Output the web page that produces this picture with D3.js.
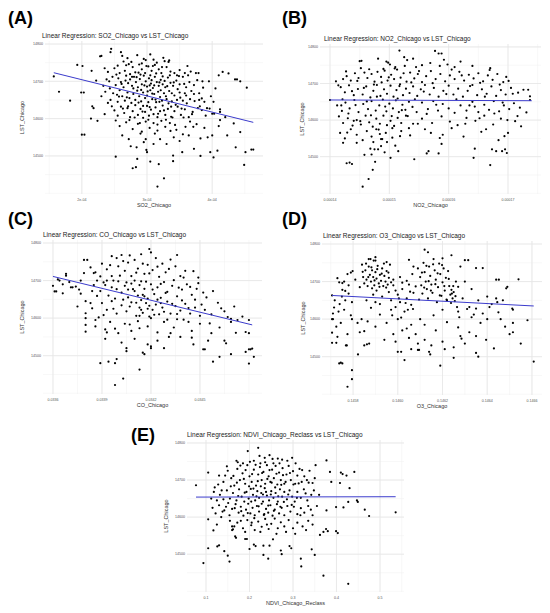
<!DOCTYPE html>
<html>
<head>
<meta charset="utf-8">
<script src="https://cdn.jsdelivr.net/npm/d3@7"></script>
<style>
  body { margin: 0; background: #fff; }
  svg { font-family: "Liberation Sans", Arial, sans-serif; }
</style>
</head>
<body>
<svg id="root" width="550" height="613"></svg>
<script>

// shared y variable (LST)
const lstTicks = [14500, 14600, 14700, 14800];
const lstLim = [14398, 14808];

// (A) SO2, x stored in units of 1e-4
const so2Pts = [
  [1.57,14713],[1.65,14672],[1.82,14648],[1.93,14744],[2.01,14741],[1.99,14670],[2.03,14670],[2.15,14728],[2.14,14600],[2.16,14633],
  [2.18,14628],[2.24,14594],[2.28,14767],[2.22,14702],[2.00,14557],[2.04,14557],
  [2.45,14787],[2.44,14778],[2.60,14778],[2.62,14768],[2.64,14753],[2.30,14768],[2.95,14760],[2.98,14757],[3.10,14758],[3.25,14763],
  [3.27,14754],[3.34,14756],[2.70,14762],[2.85,14770],[3.05,14772],
  [2.50,14735],[2.55,14742],[2.66,14728],[2.72,14746],[2.78,14738],[2.82,14724],[2.88,14745],[2.92,14732],[2.97,14722],[3.02,14740],
  [3.07,14728],[3.12,14744],[3.18,14732],[3.22,14722],[3.30,14738],[3.36,14726],[3.42,14722],[3.50,14730],[3.58,14722],[3.67,14726],
  [3.75,14722],[3.79,14722],[4.10,14716],[4.16,14725],[4.25,14721],[2.40,14725],[2.35,14735],[2.58,14722],[2.76,14752],[3.15,14750],
  [2.38,14705],[2.42,14700],[2.47,14712],[2.52,14690],[2.56,14708],[2.60,14698],[2.64,14684],[2.68,14715],[2.71,14695],[2.74,14705],
  [2.77,14688],[2.80,14712],[2.83,14698],[2.86,14684],[2.89,14706],[2.92,14692],[2.95,14715],[2.98,14700],[3.00,14686],[3.03,14708],
  [3.06,14694],[3.09,14682],[3.12,14712],[3.15,14698],[3.18,14688],[3.21,14704],[3.24,14692],[3.28,14684],[3.32,14710],[3.36,14696],
  [3.40,14688],[3.45,14702],[3.50,14692],[3.55,14712],[3.60,14684],[3.65,14698],[3.72,14690],[3.85,14700],[3.95,14700],[4.35,14705],
  [4.38,14705],[4.43,14700],[4.53,14683],[2.90,14718],[3.05,14716],
  [2.30,14660],[2.36,14672],[2.44,14650],[2.48,14668],[2.55,14645],[2.58,14676],[2.62,14660],[2.66,14648],[2.70,14670],[2.73,14655],
  [2.76,14642],[2.79,14666],[2.82,14650],[2.85,14675],[2.88,14660],[2.91,14646],[2.94,14670],[2.97,14655],[3.00,14662],[3.02,14644],
  [3.05,14676],[3.08,14652],[3.11,14666],[3.14,14644],[3.17,14672],[3.20,14658],[3.23,14648],[3.26,14668],[3.30,14652],[3.34,14674],
  [3.38,14646],[3.42,14662],[3.46,14650],[3.50,14670],[3.55,14648],[3.60,14662],[3.66,14652],[3.72,14666],[3.80,14668],[3.80,14650],
  [3.88,14645],[3.98,14660],[4.02,14645],[2.40,14642],
  [2.50,14622],[2.55,14608],[2.60,14632],[2.65,14615],[2.70,14628],[2.74,14604],[2.78,14620],[2.82,14636],[2.86,14610],[2.90,14626],
  [2.94,14602],[2.97,14618],[3.00,14634],[3.03,14608],[3.06,14624],[3.10,14612],[3.13,14630],[3.16,14604],[3.20,14620],[3.24,14635],
  [3.28,14610],[3.32,14626],[3.37,14605],[3.42,14620],[3.47,14632],[3.52,14610],[3.58,14625],[3.64,14604],[3.70,14618],[3.78,14628],
  [3.84,14623],[3.90,14608],[4.00,14613],[4.03,14613],[4.12,14625],[4.12,14618],[4.20,14604],[2.35,14612],
  [2.52,14595],[2.58,14580],[2.68,14590],[2.78,14572],[2.86,14586],[2.92,14565],[2.98,14592],[3.04,14575],[3.10,14588],[3.16,14568],
  [3.22,14594],[3.28,14578],[3.35,14588],[3.45,14570],[3.59,14578],[3.66,14592],[3.76,14585],[3.88,14575],[4.10,14580],[4.12,14596],
  [4.33,14587],[4.43,14564],[2.90,14560],
  [2.62,14555],[2.75,14526],[2.84,14523],[2.95,14537],[3.10,14532],[3.30,14532],[3.41,14550],[3.64,14555],[3.72,14519],[3.93,14550],
  [4.00,14555],[4.23,14555],[4.36,14523],[3.20,14545],[3.50,14540],
  [2.52,14498],[2.85,14492],[2.99,14516],[3.00,14510],[3.05,14485],[3.18,14478],[3.40,14501],[3.40,14486],[3.54,14510],[3.82,14500],
  [3.97,14510],[4.02,14496],[4.08,14514],[4.51,14510],[4.60,14517],[4.63,14517],
  [2.78,14467],[2.83,14470],[3.26,14440],[3.16,14418],[4.49,14476],
  [2.53,14718],[2.61,14693],[2.67,14702],[2.69,14657],[2.71,14633],[2.74,14719],[2.79,14681],[2.81,14603],[2.84,14711],[2.87,14643],
  [2.91,14677],[2.93,14619],[2.96,14689],[2.99,14741],[3.01,14673],[3.04,14631],[3.07,14703],[3.08,14667],[3.11,14689],[3.13,14651],
  [3.14,14721],[3.17,14613],[3.19,14697],[3.21,14676],[3.23,14738],[3.26,14622],[3.27,14701],[3.29,14660],[3.31,14687],[3.33,14641],
  [3.35,14716],[3.38,14668],[3.39,14603],[3.41,14697],[3.44,14637],[3.47,14679],[3.49,14714],[3.51,14656],[3.53,14627],[3.57,14693],
  [3.61,14641],[3.63,14716],[3.68,14674],[3.69,14612],[3.73,14647],[3.77,14703],[3.81,14633],[3.86,14683],[3.92,14628],[2.57,14659],
  [2.63,14627],[2.68,14743],[2.73,14596],[2.77,14712],[2.89,14588],[2.92,14748],[3.02,14597],[3.09,14741],[3.16,14584],[3.29,14597],
  [3.33,14752],[3.43,14583],[3.56,14603],[3.62,14741],[3.71,14578],[2.46,14633],[2.43,14681],[2.33,14688],[2.54,14664],[2.87,14723],
  [2.94,14634],[3.04,14689],[3.19,14645],[3.24,14713],[3.37,14632],[3.46,14716],[3.58,14668],[3.84,14654],[3.96,14627],[4.05,14681],
  [2.98,14545],[3.12,14560],[3.36,14567],[3.55,14558],[3.82,14547],[2.72,14545]
];
const so2Fit = [[1.57, 14723], [4.63, 14590]];
const so2Ticks = [2, 3, 4];
const so2TickLabels = ['2e-04', '3e-04', '4e-04'];
const so2Lim = [1.435, 4.779];

// (B) NO2, x stored in units of 1e-5
const no2Pts = [
  [14.50,14761],[14.53,14762],[14.81,14768],[14.98,14757],[15.01,14752],[15.17,14790],[15.25,14772],[15.30,14764],[15.45,14745],[15.55,14750],
  [15.77,14789],[15.83,14782],[15.88,14782],[15.92,14765],[15.98,14752],[16.10,14745],[16.40,14748],[16.70,14742],[15.10,14745],[14.90,14740],
  [14.22,14712],[14.28,14720],[14.35,14708],[14.42,14728],[14.48,14715],[14.58,14730],[14.63,14715],[14.70,14726],[14.75,14705],[14.80,14732],
  [14.86,14718],[14.92,14735],[14.97,14708],[15.03,14724],[15.08,14712],[15.13,14738],[15.19,14716],[15.24,14728],[15.29,14705],[15.35,14730],
  [15.42,14714],[15.48,14726],[15.55,14704],[15.62,14720],[15.70,14734],[15.78,14712],[15.86,14726],[15.94,14706],[16.02,14722],[16.10,14712],
  [16.18,14732],[16.26,14708],[16.34,14724],[16.42,14714],[16.50,14728],[16.58,14706],[16.66,14722],[16.74,14710],[16.82,14726],[16.92,14704],
  [16.97,14718],[14.10,14706],
  [14.18,14690],[14.25,14676],[14.32,14695],[14.40,14668],[14.47,14685],[14.55,14670],[14.61,14692],[14.68,14662],[14.73,14680],[14.79,14696],
  [14.85,14666],[14.91,14684],[14.96,14672],[15.02,14694],[15.07,14664],[15.12,14682],[15.18,14698],[15.23,14668],[15.28,14686],[15.34,14674],
  [15.40,14692],[15.47,14666],[15.53,14684],[15.60,14696],[15.68,14670],[15.75,14688],[15.83,14664],[15.91,14680],[16.00,14694],[16.08,14670],
  [16.16,14686],[16.24,14664],[16.32,14680],[16.40,14696],[16.48,14668],[16.56,14684],[16.64,14672],[16.72,14692],[16.80,14666],[16.88,14682],
  [16.96,14670],[17.05,14688],[17.26,14683],[17.34,14683],[17.37,14665],
  [14.00,14655],[14.12,14640],[14.20,14625],[14.26,14648],[14.33,14632],[14.41,14655],[14.48,14622],[14.56,14644],[14.64,14630],[14.70,14652],
  [14.77,14626],[14.83,14640],[14.89,14656],[14.95,14624],[15.00,14645],[15.06,14632],[15.11,14654],[15.16,14622],[15.22,14642],[15.27,14628],
  [15.33,14650],[15.39,14636],[15.46,14622],[15.55,14648],[15.65,14630],[15.74,14652],[15.82,14626],[15.90,14644],[16.00,14632],[16.10,14620],
  [16.20,14640],[16.30,14626],[16.40,14650],[16.50,14622],[16.60,14642],[16.68,14628],[16.76,14652],[16.85,14624],[16.93,14640],[17.02,14630],
  [17.10,14646],[17.20,14634],[17.31,14621],[17.37,14655],
  [14.15,14610],[14.22,14592],[14.30,14605],[14.38,14585],[14.45,14600],[14.52,14588],[14.60,14612],[14.66,14594],[14.72,14582],[14.78,14604],
  [14.84,14590],[14.90,14612],[14.96,14586],[15.02,14598],[15.08,14584],[15.14,14606],[15.20,14592],[15.28,14612],[15.40,14590],[15.55,14604],
  [15.72,14592],[15.88,14610],[16.02,14596],[16.15,14586],[16.30,14606],[16.45,14598],[16.60,14612],[16.75,14588],[16.88,14604],[17.12,14597],
  [17.22,14583],
  [14.17,14565],[14.25,14550],[14.35,14575],[14.45,14560],[14.55,14545],[14.62,14570],[14.70,14555],[14.78,14575],[14.86,14548],[14.94,14565],
  [15.05,14552],[15.20,14570],[15.35,14558],[15.60,14575],[15.85,14551],[15.90,14560],[16.25,14555],[16.55,14568],[16.94,14556],[17.00,14565],
  [14.22,14538],[14.45,14538],[14.70,14506],[14.75,14520],[14.86,14529],[14.92,14512],[15.15,14515],[15.63,14509],[15.66,14515],[15.83,14509],
  [15.88,14535],[16.44,14522],[16.73,14520],[16.80,14515],[16.90,14515],[16.95,14520],[16.98,14510],
  [14.28,14482],[14.33,14484],[14.37,14480],[14.55,14418],[14.65,14439],[14.72,14464],[14.76,14486],[15.02,14497],[15.42,14493],[16.42,14497],
  [16.70,14477],
  [14.14,14695],[14.21,14657],[14.27,14733],[14.31,14618],[14.37,14679],[14.43,14641],[14.46,14707],[14.51,14597],[14.57,14688],[14.62,14651],
  [14.66,14739],[14.69,14613],[14.74,14697],[14.79,14664],[14.82,14574],[14.87,14703],[14.88,14548],[14.93,14637],[14.99,14717],[15.04,14611],
  [15.05,14578],[15.09,14741],[15.14,14659],[15.17,14693],[15.21,14627],[15.26,14748],[15.31,14611],[15.37,14703],[15.43,14657],[15.50,14734],
  [15.58,14678],[15.63,14617],[15.69,14756],[15.73,14701],[15.79,14642],[15.85,14748],[15.96,14671],[16.05,14738],[16.13,14657],[16.22,14722],
  [16.28,14590],[16.36,14693],[16.44,14637],[16.53,14702],[16.61,14664],[16.69,14737],[16.77,14618],[16.86,14697],[16.91,14648],[17.01,14707],
  [17.08,14672],[17.16,14611],[14.73,14540],[14.81,14520],[14.84,14562],[14.96,14540],[15.10,14530],[14.68,14522],[14.58,14505],[14.40,14598],
  [14.29,14566],[14.19,14640],[15.18,14556],[15.33,14578],[15.48,14590],[15.70,14565],[16.05,14578],[16.35,14640],[16.52,14605],[16.63,14575],
  [16.84,14545],[16.99,14600],[17.17,14675],[14.52,14742],[14.95,14760],[15.40,14768],[16.20,14760]
];
const no2Fit = [[14.0, 14655], [17.4, 14653]];
const no2Ticks = [14, 15, 16, 17];
const no2TickLabels = ['0.00014', '0.00015', '0.00016', '0.00017'];
const no2Lim = [13.831, 17.556];

// (C) CO
const coPts = [
  [0.03360,14686],[0.03361,14671],[0.03362,14671],[0.03363,14703],[0.03364,14700],[0.03366,14690],[0.03368,14718],[0.03368,14713],[0.03366,14666],[0.03371,14682],
  [0.03372,14682],[0.03374,14684],[0.03375,14631],[0.03376,14676],[0.03377,14665],[0.03379,14755],[0.03381,14755],[0.03379,14720],[0.03380,14613],[0.03380,14600],
  [0.03380,14582],[0.03380,14564],[0.03383,14640],[0.03384,14626],[0.03386,14595],[0.03386,14578],[0.03387,14700],[0.03385,14720],[0.03388,14602],[0.03389,14480],
  [0.03394,14484],[0.03391,14608],[0.03392,14570],[0.03393,14562],
  [0.03383,14735],[0.03386,14722],[0.03390,14745],[0.03393,14730],[0.03396,14712],[0.03399,14760],[0.03400,14738],[0.03402,14768],[0.03404,14726],[0.03406,14748],
  [0.03408,14712],[0.03410,14755],[0.03412,14732],[0.03414,14770],[0.03416,14718],[0.03418,14742],[0.03419,14784],[0.03421,14728],[0.03423,14760],[0.03425,14710],
  [0.03427,14745],[0.03429,14722],[0.03432,14756],[0.03435,14738],[0.03438,14712],[0.03441,14726],[0.03446,14725],[0.03449,14708],
  [0.03385,14688],[0.03389,14672],[0.03391,14695],[0.03394,14660],[0.03396,14682],[0.03398,14652],[0.03400,14698],[0.03402,14668],[0.03404,14686],[0.03406,14655],
  [0.03408,14692],[0.03410,14672],[0.03412,14660],[0.03414,14698],[0.03416,14678],[0.03418,14652],[0.03420,14690],[0.03422,14664],[0.03424,14682],[0.03426,14654],
  [0.03428,14696],[0.03430,14670],[0.03433,14686],[0.03436,14658],[0.03439,14676],[0.03442,14690],[0.03445,14662],[0.03448,14678],[0.03452,14668],[0.03397,14700],
  [0.03413,14688],
  [0.03390,14640],[0.03393,14622],[0.03396,14645],[0.03399,14612],[0.03402,14634],[0.03405,14618],[0.03408,14642],[0.03411,14606],[0.03413,14628],[0.03415,14614],
  [0.03417,14640],[0.03419,14604],[0.03421,14622],[0.03423,14636],[0.03425,14610],[0.03427,14628],[0.03430,14644],[0.03432,14612],[0.03435,14632],[0.03438,14620],
  [0.03441,14638],[0.03444,14612],[0.03447,14628],[0.03450,14606],[0.03453,14622],[0.03457,14610],[0.03463,14626],[0.03467,14603],[0.03414,14648],[0.03418,14625],
  [0.03395,14590],[0.03398,14572],[0.03404,14585],[0.03408,14566],[0.03412,14592],[0.03418,14578],[0.03424,14562],[0.03428,14590],[0.03434,14575],[0.03440,14596],
  [0.03445,14566],[0.03450,14585],[0.03456,14586],[0.03457,14560],[0.03462,14575],[0.03469,14590],[0.03469,14598],[0.03472,14561],[0.03473,14595],[0.03480,14595],
  [0.03480,14560],[0.03478,14563],
  [0.03398,14422],[0.03403,14439],[0.03413,14463],[0.03398,14480],[0.03399,14491],[0.03405,14512],[0.03405,14520],[0.03415,14508],[0.03416,14504],[0.03420,14525],
  [0.03420,14520],[0.03424,14540],[0.03431,14550],[0.03438,14550],[0.03446,14530],[0.03452,14517],[0.03453,14517],[0.03458,14484],[0.03462,14497],[0.03465,14540],
  [0.03466,14533],[0.03469,14504],[0.03478,14510],[0.03480,14517],[0.03481,14517],[0.03482,14519],[0.03480,14479],[0.03483,14497],[0.03410,14545],[0.03402,14535],
  [0.03392,14545],
  [0.03387,14659],[0.03389,14711],[0.03392,14688],[0.03395,14741],[0.03397,14625],[0.03399,14677],[0.03401,14713],[0.03403,14649],[0.03403,14752],[0.03405,14695],
  [0.03407,14631],[0.03407,14767],[0.03409,14677],[0.03411,14721],[0.03411,14641],[0.03413,14606],[0.03415,14745],[0.03415,14662],[0.03417,14697],[0.03419,14633],
  [0.03419,14719],[0.03421,14676],[0.03422,14609],[0.03424,14737],[0.03424,14649],[0.03426,14691],[0.03428,14617],[0.03429,14667],[0.03431,14731],[0.03433,14638],
  [0.03434,14701],[0.03436,14611],[0.03437,14681],[0.03439,14647],[0.03440,14708],[0.03443,14627],[0.03444,14683],[0.03447,14649],[0.03449,14693],[0.03451,14636],
  [0.03454,14655],[0.03458,14672],[0.03461,14641],[0.03465,14618],[0.03471,14631],[0.03476,14604],[0.03406,14676],[0.03410,14700],[0.03414,14622],[0.03416,14658],
  [0.03420,14600],[0.03426,14640],[0.03430,14596],[0.03436,14597],[0.03443,14590],[0.03393,14700],[0.03384,14672],[0.03380,14645],[0.03377,14700],[0.03370,14696],
  [0.03396,14765],[0.03420,14775],[0.03436,14768],[0.03407,14583],[0.03400,14560],[0.03413,14573],[0.03432,14560],[0.03445,14548],[0.03455,14540],[0.03418,14530],
  [0.03428,14520]
];
const coFit = [[0.03360, 14711], [0.03482, 14582]];
const coTicks = [0.0336, 0.0339, 0.0342, 0.0345];
const coTickLabels = ['0.0336', '0.0339', '0.0342', '0.0345'];
const coLim = [0.033539, 0.034880];

// (D) O3
const o3Pts = [
  [0.145706,14663],[0.14571,14615],[0.145715,14631],[0.145718,14650],[0.145706,14600],[0.14571,14600],[0.145706,14564],[0.145706,14537],[0.145725,14537],[0.14573,14553],
  [0.145738,14482],[0.145745,14484],[0.145752,14482],[0.14573,14709],[0.145738,14698],[0.145752,14696],[0.14576,14700],[0.145752,14678],[0.14576,14625],[0.145775,14720],
  [0.14579,14724],[0.145798,14728],[0.145795,14600],[0.145795,14645],[0.145775,14560],[0.145768,14530],[0.145772,14530],[0.145795,14464],[0.145795,14440],[0.145775,14420],
  [0.145822,14506],[0.14583,14565],[0.14585,14568],[0.14585,14530],[0.145862,14533],[0.145872,14535],[0.145838,14600],[0.145865,14594],[0.145745,14590],[0.14574,14640],
  [0.14575,14660],[0.145765,14675],[0.14578,14690],
  [0.14587,14760],[0.145878,14760],[0.145892,14756],[0.1459,14756],[0.14584,14745],[0.145845,14712],[0.14585,14695],[0.145855,14730],[0.14586,14705],[0.145865,14688],
  [0.14587,14740],[0.145875,14718],[0.14588,14700],[0.145885,14730],[0.14589,14712],[0.145895,14690],[0.1459,14725],[0.145905,14708],[0.14591,14742],[0.145915,14695],
  [0.14592,14718],[0.145925,14702],[0.14593,14735],[0.145935,14688],[0.14594,14715],[0.145945,14700],[0.14595,14728],[0.145955,14692],[0.14596,14710],[0.145965,14745],
  [0.145885,14682],[0.145905,14676],
  [0.14596,14672],[0.14597,14650],[0.14598,14690],[0.14599,14632],[0.146,14665],[0.14601,14645],[0.14602,14680],[0.14603,14620],[0.14604,14655],[0.14605,14692],
  [0.14606,14638],[0.14607,14670],[0.145975,14610],[0.146015,14604],[0.146045,14625],[0.14598,14705],[0.14601,14712],[0.14604,14702],[0.146065,14720],[0.14607,14740],
  [0.14593,14660],[0.1459,14645],[0.14588,14630],[0.14592,14612],[0.14595,14590],[0.1459,14580],[0.14598,14560],[0.14594,14545],[0.14602,14570],[0.14606,14585],
  [0.14612,14785],[0.146135,14778],[0.14609,14735],[0.1461,14712],[0.146105,14690],[0.14611,14668],[0.146115,14750],[0.14612,14725],[0.146125,14700],[0.14613,14680],
  [0.146135,14655],[0.14614,14740],[0.146145,14715],[0.14615,14692],[0.146155,14670],[0.14616,14760],[0.146165,14730],[0.14617,14705],[0.146175,14645],[0.14618,14685],
  [0.146185,14748],[0.14619,14720],[0.146195,14662],[0.1462,14698],[0.146205,14735],[0.14621,14676],[0.146215,14710],[0.14622,14650],[0.146225,14728],[0.14623,14688],
  [0.146235,14665],[0.14624,14678],[0.146242,14668],[0.146245,14655],[0.14625,14672],[0.146255,14648],[0.14626,14700],[0.146265,14632],[0.14627,14620],[0.146275,14605],
  [0.146,14513],[0.146015,14513],[0.14603,14491],[0.14606,14520],[0.14609,14518],[0.146095,14518],[0.14614,14513],[0.146145,14506],[0.14619,14476],[0.14621,14520],
  [0.14625,14497],[0.146285,14548],[0.14628,14555],[0.14635,14510],[0.14636,14500],[0.14643,14522],[0.146395,14545],[0.14608,14560],[0.14612,14585],[0.14617,14570],
  [0.14622,14592],[0.14627,14578],[0.14632,14565],[0.14637,14590],[0.14612,14545],[0.1462,14540],[0.1463,14535],
  [0.1463,14757],[0.146315,14757],[0.14635,14736],[0.14638,14736],[0.1463,14700],[0.14633,14680],[0.14636,14650],[0.14632,14632],[0.14634,14612],[0.1464,14660],
  [0.14642,14640],[0.14644,14705],[0.146452,14705],[0.14644,14655],[0.146445,14645],[0.14647,14650],[0.14649,14686],[0.146485,14682],[0.1465,14560],[0.146515,14565],
  [0.146515,14590],[0.14648,14580],[0.146515,14625],[0.146512,14628],[0.14655,14535],[0.14658,14597],[0.146608,14487],[0.14654,14706],[0.14646,14600],[0.1464,14600],
  [0.145843,14726],[0.145858,14748],[0.145868,14712],[0.145882,14738],[0.145896,14703],[0.145908,14733],[0.145918,14686],[0.145928,14721],[0.145938,14748],[0.145948,14684],
  [0.145958,14724],[0.14597,14698],[0.14599,14676],[0.146005,14655],[0.14602,14697],[0.146035,14643],[0.146055,14673],[0.146068,14627],[0.14608,14687],[0.146095,14652],
  [0.146108,14724],[0.146118,14684],[0.146128,14742],[0.146138,14701],[0.146148,14676],[0.146158,14746],[0.146168,14693],[0.146178,14722],[0.146188,14663],[0.146198,14744],
  [0.146208,14688],[0.146218,14652],[0.146228,14707],[0.146238,14643],[0.146248,14688],[0.146258,14661],[0.14627,14686],[0.14629,14655],[0.14631,14627],[0.14633,14605],
  [0.14635,14628],[0.14638,14615],[0.14641,14632],[0.14645,14618],[0.14589,14665],[0.14592,14640],[0.14597,14625],[0.146,14600],[0.14586,14650],[0.14583,14685],
  [0.14581,14705],[0.14578,14668],[0.145765,14650],[0.145735,14620],[0.145725,14580],[0.14579,14610],[0.14582,14590],[0.14599,14540],[0.14605,14550],[0.1461,14600],
  [0.14616,14610],[0.1462,14625],[0.14604,14575],[0.14609,14535],[0.14615,14530],[0.14625,14525],[0.14635,14555],[0.1459,14765],[0.14595,14752],[0.14605,14758],
  [0.14624,14770],[0.14628,14740],[0.1462,14762]
];
const o3Fit = [[0.145706, 14663], [0.146608, 14635]];
const o3Ticks = [0.1458, 0.1460, 0.1462, 0.1464, 0.1466];
const o3TickLabels = ['0.1458', '0.1460', '0.1462', '0.1464', '0.1466'];
const o3Lim = [0.145661, 0.146645];

// (E) NDVI
const ndviPts = [
  [0.077,14686],[0.105,14720],[0.105,14594],[0.105,14516],[0.094,14476],[0.117,14564],[0.126,14521],[0.13,14524],[0.142,14508],[0.15,14496],
  [0.154,14480],[0.16,14565],[0.162,14567],[0.167,14548],[0.169,14544],[0.19,14541],[0.194,14541],[0.2,14514],[0.21,14526],[0.214,14522],
  [0.232,14498],[0.243,14488],[0.232,14523],[0.246,14523],[0.254,14540],[0.272,14510],[0.274,14500],[0.292,14522],[0.296,14516],[0.318,14488],
  [0.319,14467],[0.343,14513],[0.35,14498],[0.37,14442],[0.427,14420],[0.362,14552],[0.37,14560],[0.38,14562],[0.376,14568],[0.403,14557],
  [0.399,14562],[0.399,14627],[0.377,14618],[0.416,14626],[0.427,14641],[0.447,14645],[0.449,14641],[0.465,14620],[0.475,14603],[0.536,14613],
  [0.385,14722],[0.388,14695],[0.41,14720],[0.414,14716],[0.408,14692],[0.423,14712],[0.441,14722],[0.377,14753],[0.43,14678],[0.36,14660],
  [0.355,14630],
  [0.196,14778],[0.22,14787],[0.246,14767],[0.298,14760],[0.17,14752],[0.173,14748],[0.148,14737],[0.265,14758],[0.275,14755],[0.235,14760],
  [0.21,14752],
  [0.12,14680],[0.13,14712],[0.14,14695],[0.15,14725],[0.158,14705],[0.165,14685],[0.172,14730],[0.178,14700],[0.184,14718],[0.19,14690],
  [0.195,14740],[0.2,14710],[0.205,14695],[0.21,14728],[0.215,14685],[0.22,14715],[0.224,14735],[0.228,14700],[0.232,14722],[0.236,14690],
  [0.24,14740],[0.244,14710],[0.248,14695],[0.252,14728],[0.256,14705],[0.26,14738],[0.264,14688],[0.268,14720],[0.272,14700],[0.276,14732],
  [0.28,14690],[0.285,14715],[0.29,14738],[0.295,14700],[0.3,14724],[0.305,14690],[0.31,14712],[0.315,14730],[0.32,14695],[0.326,14710],
  [0.332,14700],[0.338,14725],[0.345,14692],[0.35,14705],[0.225,14745],[0.255,14745],[0.185,14745],
  [0.112,14650],[0.118,14668],[0.125,14645],[0.132,14660],[0.14,14648],[0.148,14672],[0.155,14650],[0.162,14665],[0.17,14645],[0.176,14675],
  [0.182,14655],[0.188,14642],[0.193,14668],[0.198,14650],[0.203,14676],[0.208,14660],[0.213,14645],[0.218,14670],[0.222,14652],[0.227,14665],
  [0.231,14642],[0.235,14678],[0.24,14658],[0.245,14645],[0.25,14670],[0.255,14652],[0.26,14665],[0.265,14642],[0.27,14675],[0.275,14655],
  [0.28,14668],[0.286,14648],[0.292,14672],[0.298,14655],[0.304,14642],[0.31,14668],[0.318,14652],[0.325,14675],[0.333,14645],[0.342,14660],
  [0.115,14625],[0.122,14610],[0.13,14632],[0.138,14615],[0.146,14628],[0.154,14605],[0.16,14622],[0.168,14635],[0.175,14612],[0.18,14628],
  [0.186,14604],[0.192,14620],[0.197,14636],[0.202,14610],[0.207,14625],[0.212,14605],[0.217,14630],[0.222,14615],[0.228,14636],[0.234,14608],
  [0.238,14622],[0.243,14612],[0.248,14632],[0.253,14604],[0.258,14620],[0.263,14635],[0.268,14610],[0.274,14625],[0.28,14605],[0.287,14630],
  [0.294,14615],[0.302,14628],[0.31,14608],[0.318,14624],[0.326,14612],[0.335,14630],[0.345,14605],
  [0.155,14590],[0.16,14575],[0.172,14585],[0.185,14570],[0.195,14592],[0.204,14578],[0.212,14565],[0.22,14588],[0.228,14574],[0.236,14595],
  [0.244,14568],[0.25,14582],[0.258,14596],[0.265,14570],[0.272,14586],[0.28,14575],[0.29,14592],[0.3,14570],[0.31,14585],[0.322,14575],
  [0.335,14590],[0.345,14580],
  [0.128,14688],[0.136,14672],[0.144,14712],[0.151,14638],[0.157,14683],[0.163,14711],[0.166,14624],[0.171,14693],[0.174,14657],[0.179,14739],
  [0.181,14616],[0.187,14703],[0.189,14666],[0.191,14727],[0.196,14611],[0.199,14683],[0.201,14749],[0.204,14642],[0.206,14716],[0.209,14677],
  [0.211,14597],[0.214,14741],[0.216,14656],[0.219,14697],[0.221,14629],[0.223,14765],[0.226,14683],[0.229,14719],[0.231,14661],[0.233,14606],
  [0.236,14748],[0.238,14668],[0.241,14703],[0.243,14631],[0.246,14727],[0.249,14661],[0.251,14693],[0.253,14757],[0.256,14617],[0.259,14680],
  [0.262,14717],[0.266,14656],[0.269,14745],[0.271,14628],[0.273,14687],[0.277,14713],[0.279,14641],[0.283,14695],[0.287,14752],[0.289,14661],
  [0.293,14719],[0.297,14633],[0.301,14688],[0.306,14745],[0.309,14652],[0.313,14691],[0.317,14605],[0.321,14727],[0.329,14664],[0.336,14693],
  [0.341,14620],[0.348,14672],[0.352,14740],[0.18,14590],[0.19,14560],[0.205,14585],[0.225,14560],[0.24,14580],[0.262,14555],[0.284,14560],
  [0.305,14555],[0.33,14565],[0.142,14618],[0.135,14600],[0.125,14580],[0.165,14575]
];
const ndviFit = [[0.077, 14654], [0.536, 14655]];
const ndviTicks = [0.1, 0.2, 0.3, 0.4, 0.5];
const ndviTickLabels = ['0.1', '0.2', '0.3', '0.4', '0.5'];
const ndviLim = [0.0563, 0.5552];

const panels = [
  { tag: '(A)', tagX: 8, tagY: 24, name: 'SO2_Chicago', pts: so2Pts, fit: so2Fit, ticks: so2Ticks, labels: so2TickLabels, lim: so2Lim,
    box: { l: 45, r: 263, t: 41, b: 194 }, yTitleX: 24, titleX: 42 },
  { tag: '(B)', tagX: 282, tagY: 24, name: 'NO2_Chicago', pts: no2Pts, fit: no2Fit, ticks: no2Ticks, labels: no2TickLabels, lim: no2Lim,
    box: { l: 320, r: 541, t: 44, b: 194 }, yTitleX: 304, titleX: 324 },
  { tag: '(C)', tagX: 8, tagY: 225, name: 'CO_Chicago', pts: coPts, fit: coFit, ticks: coTicks, labels: coTickLabels, lim: coLim,
    box: { l: 43, r: 262, t: 240, b: 394 }, yTitleX: 24, titleX: 43 },
  { tag: '(D)', tagX: 282, tagY: 225, name: 'O3_Chicago', pts: o3Pts, fit: o3Fit, ticks: o3Ticks, labels: o3TickLabels, lim: o3Lim,
    box: { l: 322, r: 542, t: 241, b: 395 }, yTitleX: 305, titleX: 323 },
  { tag: '(E)', tagX: 131, tagY: 441, name: 'NDVI_Chicago_Reclass', pts: ndviPts, fit: ndviFit, ticks: ndviTicks, labels: ndviTickLabels, lim: ndviLim,
    box: { l: 187, r: 404, t: 440, b: 592 }, yTitleX: 168, titleX: 187 }
];

const root = d3.select('#root');

// ggplot style minor breaks: midpoints of the majors, one step extended each side
const minorBreaks = (ticks, lim) => {
  const step = ticks[1] - ticks[0];
  const ext = [ticks[0] - step, ...ticks, ticks[ticks.length - 1] + step];
  const out = ext.slice();
  for (let i = 0; i < ext.length - 1; i++) out.push((ext[i] + ext[i + 1]) / 2);
  return out.filter(v => v >= lim[0] && v <= lim[1]);
};

const render = (selection, p) => {
  const { l, r, t, b } = p.box;
  const x = d3.scaleLinear().domain(p.lim).range([l, r]);
  const y = d3.scaleLinear().domain(lstLim).range([b, t]);
  const g = selection.append('g');

  // grid
  g.selectAll('.vmin').data(minorBreaks(p.ticks, p.lim)).enter().append('line')
    .attr('x1', d => x(d)).attr('x2', d => x(d)).attr('y1', t).attr('y2', b)
    .attr('stroke', '#f1f1f1').attr('stroke-width', 0.5);
  g.selectAll('.hmin').data(minorBreaks(lstTicks, lstLim)).enter().append('line')
    .attr('y1', d => y(d)).attr('y2', d => y(d)).attr('x1', l).attr('x2', r)
    .attr('stroke', '#f1f1f1').attr('stroke-width', 0.5);
  g.selectAll('.vmaj').data(p.ticks).enter().append('line')
    .attr('x1', d => x(d)).attr('x2', d => x(d)).attr('y1', t).attr('y2', b)
    .attr('stroke', '#e6e6e6').attr('stroke-width', 0.8);
  g.selectAll('.hmaj').data(lstTicks).enter().append('line')
    .attr('y1', d => y(d)).attr('y2', d => y(d)).attr('x1', l).attr('x2', r)
    .attr('stroke', '#e6e6e6').attr('stroke-width', 0.8);

  // points
  g.selectAll('circle').data(p.pts).enter().append('circle')
    .attr('cx', d => x(d[0])).attr('cy', d => y(d[1]))
    .attr('r', 1.1).attr('fill', '#000');

  // regression line
  g.append('path').datum(p.fit)
    .attr('d', d3.line().x(d => x(d[0])).y(d => y(d[1])))
    .attr('fill', 'none').attr('stroke', '#3b3bcc').attr('stroke-width', 1);

  // axis labels
  g.selectAll('.xt').data(p.ticks).enter().append('text')
    .attr('x', d => x(d)).attr('y', b + 6.5)
    .attr('text-anchor', 'middle').attr('font-size', 3.6).attr('fill', '#555')
    .text((d, i) => p.labels[i]);
  g.selectAll('.yt').data(lstTicks).enter().append('text')
    .attr('x', l - 2).attr('y', d => y(d) + 1.3)
    .attr('text-anchor', 'end').attr('font-size', 3.6).attr('fill', '#555')
    .text(d => d);

  g.append('text')
    .attr('x', (l + r) / 2).attr('y', b + 13)
    .attr('text-anchor', 'middle').attr('font-size', 5.5).attr('fill', '#333')
    .text(p.name);
  g.append('text')
    .attr('transform', `translate(${p.yTitleX},${(t + b) / 2}) rotate(-90)`)
    .attr('text-anchor', 'middle').attr('font-size', 5.5).attr('fill', '#333')
    .text('LST_Chicago');

  g.append('text')
    .attr('x', p.titleX).attr('y', t - 3)
    .attr('font-size', 6.5).attr('fill', '#1a1a1a')
    .text(`Linear Regression: ${p.name} vs LST_Chicago`);

  g.append('text')
    .attr('x', p.tagX).attr('y', p.tagY)
    .attr('font-size', 18).attr('font-weight', 'bold').attr('fill', '#000')
    .text(p.tag);
};

panels.forEach(p => render(root, p));

</script>
</body>
</html>
